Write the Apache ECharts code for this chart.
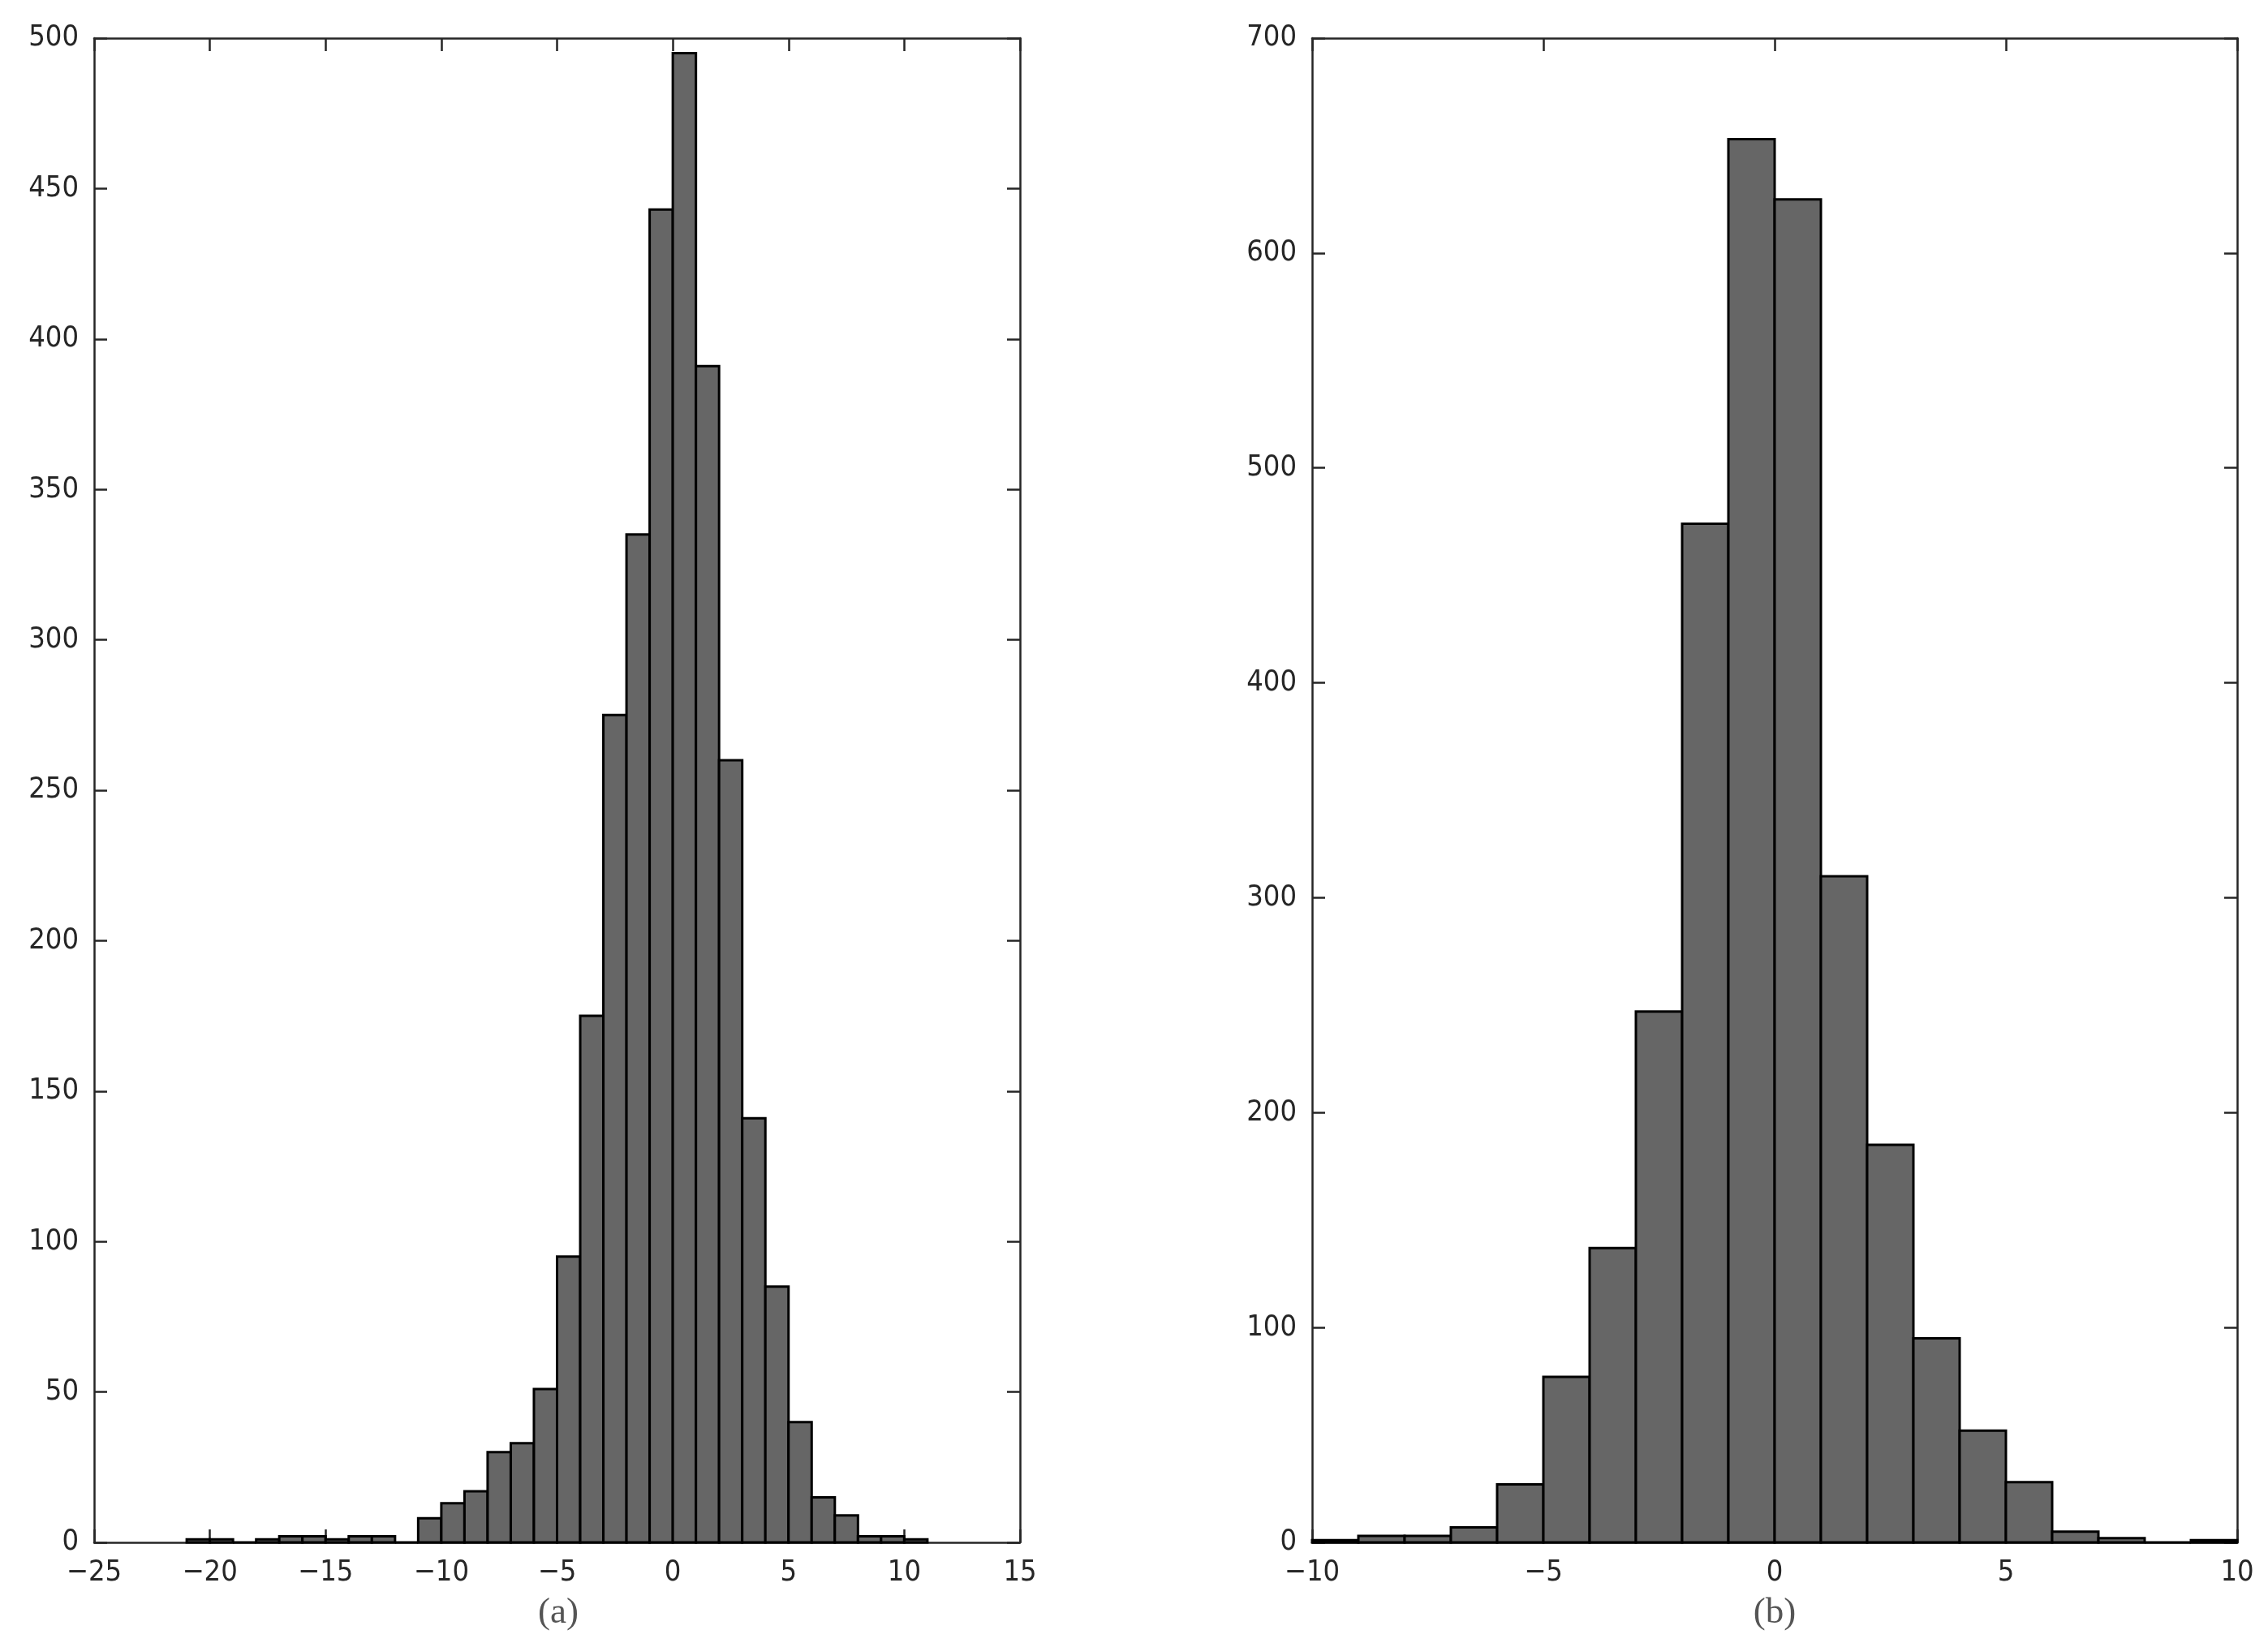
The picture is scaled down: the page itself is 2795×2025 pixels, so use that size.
<!DOCTYPE html>
<html>
<head>
<meta charset="utf-8">
<title>histograms</title>
<script src="https://cdn.jsdelivr.net/npm/echarts@6/dist/echarts.min.js"></script>
<style>
  html, body { margin: 0; padding: 0; background: #fff; }
  #main { width: 2795px; height: 2025px; }
</style>
</head>
<body>
<div id="main"></div>
<script>
// (a) bin left edges (width 1) and counts
const binsA = [-21, -20, -19, -18, -17, -16, -15, -14, -13, -12, -11, -10, -9, -8, -7, -6,
  -5, -4, -3, -2, -1, 0, 1, 2, 3, 4, 5, 6, 7, 8, 9, 10]
const countsA = [1, 1, 0, 1, 2, 2, 1, 2, 2, 0, 8, 13, 17, 30, 33, 51,
  95, 175, 275, 335, 443, 495, 391, 260, 141, 85, 40, 15, 9, 2, 2, 1]

// (b) bin left edges (width 1) and counts
const binsB = [-10, -9, -8, -7, -6, -5, -4, -3, -2, -1, 0, 1, 2, 3, 4, 5, 6, 7, 8, 9]
const countsB = [1, 3, 3, 7, 27, 77, 137, 247, 474, 653, 625, 310, 185, 95, 52, 28, 5, 2, 0, 1]

const binWidth = 1
const captions = ['(a)', '(b)']

const chart = echarts.init(document.getElementById('main'))

// draw one histogram bin as a rect, using the axis scales
function histItem (params, api) {
  const x0 = api.value(0)
  const x1 = api.value(1)
  const h = api.value(2)
  const p0 = api.coord([x0, h])
  const p1 = api.coord([x1, 0])
  return {
    type: 'rect',
    shape: { x: p0[0], y: p0[1], width: p1[0] - p0[0], height: p1[1] - p0[1] },
    style: { fill: '#666666', stroke: '#000000', lineWidth: 3 }
  }
}

function toData (bins, counts) {
  return bins.map((b, i) => [b, b + binWidth, counts[i]])
}

const labelStyle = {
  color: '#262626',
  fontFamily: '"DejaVu Sans Condensed", "Liberation Sans", sans-serif',
  fontSize: 36
}
const lineStyle = { color: '#262626', width: 2.5 }
const minusFmt = v => String(v).replace('-', '\u2212')

function xAxes (gridIndex, min, max, interval) {
  return [
    {
      type: 'value', gridIndex, position: 'bottom', min, max, interval,
      axisLine: { show: true, onZero: false, lineStyle },
      axisTick: { show: true, inside: true, length: 16, lineStyle },
      axisLabel: Object.assign({ margin: 20, formatter: minusFmt }, labelStyle),
      splitLine: { show: false }
    },
    {
      type: 'value', gridIndex, position: 'top', min, max, interval,
      axisLine: { show: true, onZero: false, lineStyle },
      axisTick: { show: true, inside: true, length: 16, lineStyle },
      axisLabel: { show: false },
      splitLine: { show: false }
    }
  ]
}

function yAxes (gridIndex, max, interval) {
  return [
    {
      type: 'value', gridIndex, position: 'left', min: 0, max, interval,
      axisLine: { show: true, onZero: false, lineStyle },
      axisTick: { show: true, inside: true, length: 16, lineStyle },
      axisLabel: Object.assign({ margin: 19 }, labelStyle),
      splitLine: { show: false }
    },
    {
      type: 'value', gridIndex, position: 'right', min: 0, max, interval,
      axisLine: { show: true, onZero: false, lineStyle },
      axisTick: { show: true, inside: true, length: 16, lineStyle },
      axisLabel: { show: false },
      splitLine: { show: false }
    }
  ]
}

const captionFont = '45px "Liberation Serif", serif'

const option = {
  backgroundColor: '#ffffff',
  animation: false,
  grid: [
    { left: 116, top: 47, width: 1141, height: 1854, outerBoundsMode: 'none' },
    { left: 1617, top: 47, width: 1140, height: 1854, outerBoundsMode: 'none' }
  ],
  xAxis: [...xAxes(0, -25, 15, 5), ...xAxes(1, -10, 10, 5)],
  yAxis: [...yAxes(0, 500, 50), ...yAxes(1, 700, 100)],
  series: [
    {
      type: 'custom',
      xAxisIndex: 0,
      yAxisIndex: 0,
      renderItem: histItem,
      encode: { x: [0, 1], y: 2 },
      data: toData(binsA, countsA)
    },
    {
      type: 'custom',
      xAxisIndex: 2,
      yAxisIndex: 2,
      renderItem: histItem,
      encode: { x: [0, 1], y: 2 },
      data: toData(binsB, countsB)
    }
  ],
  graphic: [
    {
      type: 'text', x: 688, y: 1988,
      style: { text: captions[0], fill: '#555', font: captionFont, textAlign: 'center', textVerticalAlign: 'middle' }
    },
    {
      type: 'text', x: 2187, y: 1988,
      style: { text: captions[1], fill: '#555', font: captionFont, textAlign: 'center', textVerticalAlign: 'middle' }
    }
  ]
}

chart.setOption(option)
</script>
</body>
</html>
